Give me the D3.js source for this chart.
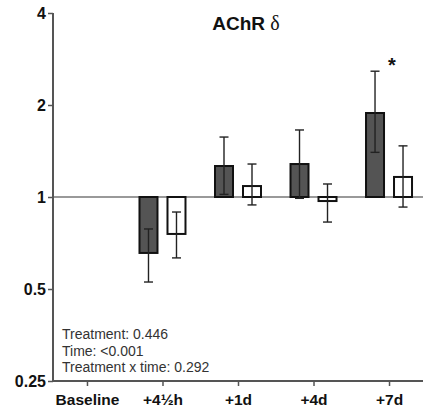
<!DOCTYPE html>
<html><head><meta charset="utf-8">
<script src="https://cdn.jsdelivr.net/npm/d3@7"></script>
<style>body{margin:0;background:#fff}svg{display:block}text{font-family:"Liberation Sans",Arial,sans-serif}</style>
</head><body><svg id="c" width="438" height="417"></svg>
<script>
const categories = ["Baseline", "+4\u00BDh", "+1d", "+4d", "+7d"];
const treatedValues = [null, 0.656, 1.263, 1.282, 1.883];
const treatedLow = [null, 0.527, 1.02, 0.99, 1.40];
const treatedHigh = [null, 0.786, 1.571, 1.657, 2.58];
const controlValues = [null, 0.757, 1.086, 0.97, 1.163];
const controlLow = [null, 0.632, 0.942, 0.828, 0.927];
const controlHigh = [null, 0.893, 1.282, 1.103, 1.47];
const yTicks = [0.25, 0.5, 1, 2, 4];
const significance = ["", "", "", "", "*"];
const statLines = ["Treatment: 0.446", "Time: <0.001", "Treatment x time: 0.292"];

const svg = d3.select("#c");
const mLeft = 53, mRight = 423, mTop = 13, mBottom = 381;
const y = d3.scaleLog().base(2).domain([0.25, 4]).range([mBottom, mTop]);
const x = d3.scalePoint().domain(categories).range([mLeft, mRight]).padding(0.45);
const axisColor = "#555";

// baseline line at 1
svg.append("line").attr("x1", mLeft).attr("x2", mRight).attr("y1", y(1)).attr("y2", y(1))
  .attr("stroke", "#777").attr("stroke-width", 1.3);

// axes
const yAxis = svg.append("g").attr("transform", `translate(${mLeft},0)`)
  .call(d3.axisLeft(y).tickValues(yTicks).tickFormat(d => String(d)).tickSize(5).tickPadding(2));
yAxis.select(".domain").attr("stroke", axisColor).attr("stroke-width", 2).attr("d", `M0,${mTop}V${mBottom}`);
yAxis.selectAll(".tick line").attr("stroke", axisColor).attr("stroke-width", 1.5);
yAxis.selectAll(".tick text").attr("font-size", 16).attr("font-weight", "bold").attr("fill", "#111")
  .attr("font-family", "Liberation Sans, Arial, sans-serif");

const xAxis = svg.append("g").attr("transform", `translate(0,${mBottom})`)
  .call(d3.axisBottom(x).tickSize(5).tickPadding(8));
xAxis.select(".domain").attr("stroke", axisColor).attr("stroke-width", 2).attr("d", `M${mLeft},0H${mRight}`);
xAxis.selectAll(".tick line").attr("stroke", axisColor).attr("stroke-width", 1.5);
xAxis.selectAll(".tick text").attr("font-size", 15.5).attr("font-weight", "bold").attr("fill", "#111")
  .attr("font-family", "Liberation Sans, Arial, sans-serif");

const off = 14, bw = 18, cap = 4.5;
function drawSeries(vals, lows, highs, dx, fill) {
  const g = svg.append("g");
  categories.forEach((c, i) => {
    const v = vals[i];
    if (v == null) return;
    const cx = x(c) + dx;
    const y0 = y(1), y1 = y(v);
    g.append("rect").attr("x", cx - bw / 2).attr("width", bw)
      .attr("y", Math.min(y0, y1)).attr("height", Math.abs(y1 - y0))
      .attr("fill", fill).attr("stroke", "#111").attr("stroke-width", 2);
    const eg = g.append("g").attr("stroke", "#222").attr("stroke-width", 1.4);
    eg.append("line").attr("x1", cx).attr("x2", cx).attr("y1", y(lows[i])).attr("y2", y(highs[i]));
    eg.append("line").attr("x1", cx - cap).attr("x2", cx + cap).attr("y1", y(lows[i])).attr("y2", y(lows[i]));
    eg.append("line").attr("x1", cx - cap).attr("x2", cx + cap).attr("y1", y(highs[i])).attr("y2", y(highs[i]));
  });
}
drawSeries(treatedValues, treatedLow, treatedHigh, -off, "#545454");
drawSeries(controlValues, controlLow, controlHigh, off, "#fff");

// significance stars
categories.forEach((c, i) => {
  if (!significance[i]) return;
  svg.append("text").attr("x", x(c) + 3).attr("y", y(treatedHigh[i]) + 1)
    .attr("text-anchor", "middle").attr("font-size", 20).attr("font-weight", "bold").attr("fill", "#111")
    .text(significance[i]);
});

// title
const t = svg.append("text").attr("x", 246).attr("y", 30).attr("text-anchor", "middle").attr("fill", "#111");
t.append("tspan").attr("font-size", 19).attr("font-weight", "bold").text("AChR ");
t.append("tspan").attr("font-size", 20).attr("font-family", "Liberation Serif, serif").text("\u03B4");

// stats
statLines.forEach((s, i) => {
  svg.append("text").attr("x", 62).attr("y", 339 + i * 16.5).attr("font-size", 14).attr("fill", "#333").text(s);
});
</script></body></html>
